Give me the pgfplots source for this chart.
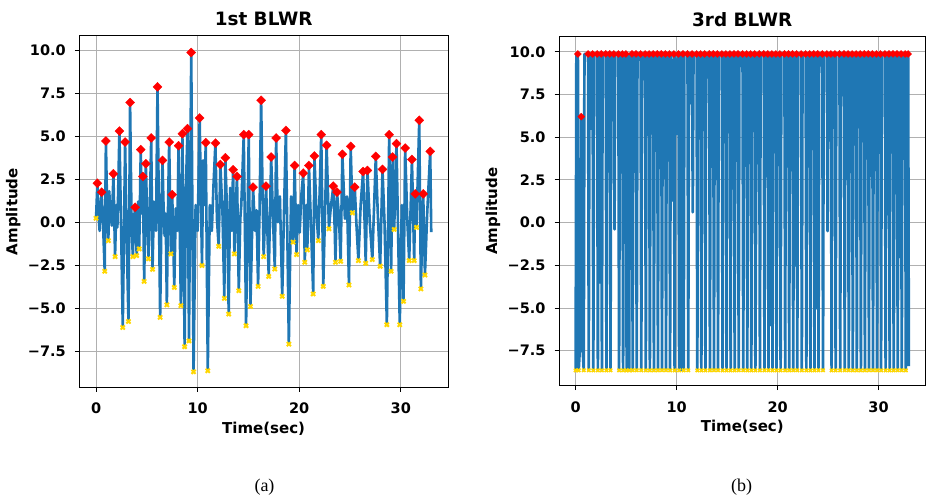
\documentclass[border=0pt]{standalone}
\usepackage{pgfplots}
\usepackage{pgfplotstable}
\pgfplotsset{compat=1.18}
\usepackage{fontspec}
\setmainfont{DejaVu Sans}
\newfontfamily\capfont{Liberation Serif}

\definecolor{sigblue}{RGB}{31,119,180}
\definecolor{peakred}{RGB}{255,0,0}
\definecolor{troughgold}{RGB}{255,215,0}
\definecolor{gridgray}{RGB}{176,176,176}

% t = time (s), v = amplitude, k = 1 peak / -1 trough / 0 plain sample
\pgfplotstableread{
t v k
0.00 0.23 -1
0.13 2.27 1
0.25 0.4 0
0.35 -0.5 0
0.45 0.9 0
0.55 1.75 1
0.70 -0.3 0
0.85 -2.85 -1
0.97 4.72 1
1.10 0.5 0
1.21 -1.07 -1
1.30 1.8 0
1.40 0.6 0
1.55 -0.2 0
1.71 2.82 1
1.87 -2.00 -1
2.00 1.0 0
2.10 -0.3 0
2.18 1.9 0
2.30 5.30 1
2.45 0.2 0
2.63 -6.12 -1
2.86 4.66 1
3.00 -0.5 0
3.19 -5.77 -1
3.35 6.96 1
3.50 -0.2 0
3.62 -2.00 -1
3.75 0.3 0
3.85 0.87 1
4.00 -1.94 -1
4.15 1.2 0
4.25 -1.55 -1
4.40 4.22 1
4.52 0.5 0
4.60 2.66 1
4.74 -3.44 -1
4.90 3.40 1
5.05 0.0 0
5.16 -2.13 -1
5.30 1.0 0
5.43 4.90 1
5.56 -2.74 -1
5.70 1.2 0
5.80 0.1 0
5.90 -0.5 0
6.05 7.87 1
6.20 0.0 0
6.31 -5.53 -1
6.45 1.0 0
6.54 3.60 1
6.65 0.8 0
6.75 -0.8 0
6.85 0.5 0
6.97 -4.81 -1
7.10 1.5 0
7.20 4.66 1
7.37 -1.84 -1
7.50 1.60 1
7.70 -3.79 -1
7.85 0.8 0
8.00 -0.5 0
8.12 4.45 1
8.35 -4.85 -1
8.50 5.15 1
8.72 -7.24 -1
8.85 2.0 0
9.00 5.44 1
9.15 -6.90 -1
9.37 9.87 1
9.60 -8.70 -1
9.80 1.0 0
9.90 0.2 0
10.00 -0.5 0
10.20 6.06 1
10.43 -2.52 -1
10.55 3.6 0
10.65 1.0 0
10.80 4.63 1
11.00 -8.64 -1
11.20 1.0 0
11.30 0.1 0
11.40 -0.5 0
11.55 2.0 0
11.75 4.60 1
11.90 0.2 0
12.07 -1.40 -1
12.24 3.36 1
12.45 0.5 0
12.63 -4.43 -1
12.73 3.75 1
12.90 0.5 0
13.06 -5.34 -1
13.20 2.0 0
13.35 -0.5 0
13.49 3.05 1
13.62 -1.84 -1
13.75 1.0 0
13.88 2.66 1
14.05 -3.98 -1
14.20 0.2 0
14.30 1.0 0
14.54 5.09 1
14.77 -6.02 -1
15.03 5.09 1
15.20 -4.90 -1
15.46 2.04 1
15.65 -0.5 0
15.80 0.7 0
15.95 -3.73 -1
16.10 0.8 0
16.25 7.09 1
16.50 -2.00 -1
16.74 2.10 1
17.00 -3.15 -1
17.24 3.79 1
17.45 -0.3 0
17.60 -2.72 -1
17.73 4.90 1
17.90 0.0 0
18.00 0.9 0
18.10 1.5 0
18.33 -4.31 -1
18.50 0.5 0
18.69 5.34 1
18.98 -7.09 -1
19.20 1.5 0
19.40 -1.16 -1
19.55 3.30 1
19.74 -1.88 -1
19.90 1.0 0
20.05 -0.6 0
20.20 1.5 0
20.40 2.86 1
20.55 -2.33 -1
20.70 1.0 0
20.80 -1.61 -1
20.96 3.30 1
21.15 0.0 0
21.38 -4.17 -1
21.50 3.85 1
21.70 0.5 0
21.88 -1.07 -1
22.17 5.09 1
22.37 -3.73 -1
22.55 0.8 0
22.70 4.47 1
22.93 -0.38 -1
23.10 0.8 0
23.36 2.10 1
23.50 -0.5 0
23.57 -2.33 -1
23.72 1.75 1
23.90 0.5 0
24.08 -2.27 -1
24.25 3.95 1
24.50 0.2 0
24.70 1.5 0
24.90 -3.65 -1
25.07 4.41 1
25.24 0.55 -1
25.47 2.04 1
25.65 -0.3 0
25.83 -2.23 -1
26.05 1.0 0
26.29 2.95 1
26.45 -0.2 0
26.55 -2.39 -1
26.72 3.01 1
26.95 0.0 0
27.20 -2.17 -1
27.35 0.5 0
27.54 3.83 1
27.75 0.3 0
27.97 -2.56 -1
28.20 3.07 1
28.40 0.0 0
28.63 -5.96 -1
28.86 5.09 1
29.05 -2.85 -1
29.20 3.79 1
29.35 -0.42 -1
29.58 4.57 1
29.90 -5.96 -1
30.10 1.0 0
30.27 -4.60 -1
30.43 4.31 1
30.65 0.0 0
30.83 -2.23 -1
31.10 3.65 1
31.32 -2.23 -1
31.42 1.65 1
31.55 -0.30 -1
31.82 5.93 1
31.98 -3.88 -1
32.21 1.65 1
32.38 -3.07 -1
32.60 0.5 0
32.90 4.12 1
33.00 -0.58 0
}\firstblwr

\pgfplotstableread{
t v k
0.00 -8.65 -1
0.07 9.87 0
0.22 9.87 1
0.30 -8.65 -1
0.45 -7.0 0
0.56 6.20 1
0.68 -7.2 0
0.80 -8.65 -1
0.87 9.87 0
1.23 9.87 1
1.30 -8.65 -1
1.37 9.87 0
1.52 5.5 0
1.68 9.87 1
1.75 -8.65 -1
1.82 9.87 0
2.13 9.87 1
2.20 -8.65 -1
2.27 9.87 0
2.40 -3.5 0
2.53 9.87 1
2.60 -8.65 -1
2.67 9.87 0
2.98 9.87 1
3.05 -8.65 -1
3.12 9.87 0
3.38 9.87 1
3.45 -8.65 -1
3.52 9.87 0
3.78 9.87 1
3.85 -0.4 0
3.92 9.87 0
4.23 9.87 1
4.30 -8.65 -1
4.37 5.6 0
4.50 9.87 0
4.63 9.87 1
4.70 -8.65 -1
4.77 9.87 0
4.98 9.87 1
5.05 -8.65 -1
5.12 9.87 0
5.20 9.3 0
5.30 -8.65 -1
5.37 9.87 0
5.58 9.87 1
5.65 -8.65 -1
5.72 9.87 0
5.85 8.5 0
5.98 9.87 1
6.05 -8.65 -1
6.12 9.87 0
6.43 9.87 1
6.50 -8.65 -1
6.57 9.87 0
6.72 8.4 0
6.88 9.87 1
6.95 -8.65 -1
7.02 9.87 0
7.28 9.87 1
7.35 -8.65 -1
7.42 9.87 0
7.68 9.87 1
7.75 -8.65 -1
7.82 9.87 0
8.08 9.87 1
8.15 -8.65 -1
8.22 9.87 0
8.48 9.87 1
8.55 -8.65 -1
8.62 9.87 0
8.88 9.87 1
8.95 -8.65 -1
9.02 9.87 0
9.28 9.87 1
9.35 -8.65 -1
9.42 9.87 0
9.58 1.3 0
9.73 9.87 1
9.80 -8.65 -1
9.87 9.87 0
10.02 5.2 0
10.18 9.87 1
10.25 -8.65 -1
10.32 -1.0 0
10.40 -8.65 0
10.47 9.87 0
10.63 9.87 1
10.70 -8.65 -1
10.77 9.87 0
11.08 9.87 1
11.15 -8.65 -1
11.22 9.87 0
11.38 7.0 0
11.53 9.87 1
11.60 0.6 0
11.67 9.87 0
11.98 9.87 1
12.05 -8.65 -1
12.12 9.87 0
12.38 9.87 1
12.45 -8.65 -1
12.52 9.87 0
12.65 9.0 0
12.78 9.87 1
12.85 -8.65 -1
12.92 9.87 0
13.08 8.5 0
13.23 9.87 1
13.30 -8.65 -1
13.37 9.87 0
13.63 9.87 1
13.70 -8.65 -1
13.77 9.87 0
14.03 9.87 1
14.10 -8.65 -1
14.17 9.87 0
14.48 9.87 1
14.55 -8.65 -1
14.62 9.87 0
14.88 9.87 1
14.95 -8.65 -1
15.02 9.87 0
15.15 5.3 0
15.28 9.87 1
15.35 -8.65 -1
15.42 9.87 0
15.55 2.0 0
15.68 9.87 1
15.75 -8.65 -1
15.82 9.87 0
16.08 9.87 1
16.15 -8.65 -1
16.22 9.87 0
16.53 9.87 1
16.60 -8.65 -1
16.67 9.87 0
16.93 9.87 1
17.00 -8.65 -1
17.07 9.87 0
17.20 3.5 0
17.33 9.87 1
17.40 -8.65 -1
17.47 9.87 0
17.73 9.87 1
17.80 -8.65 -1
17.87 1.4 0
18.00 9.87 0
18.18 9.87 1
18.25 -8.65 -1
18.32 9.87 0
18.63 9.87 1
18.70 -8.65 -1
18.77 9.87 0
19.03 9.87 1
19.10 -8.65 -1
19.17 9.87 0
19.30 -6.0 0
19.43 9.87 1
19.50 -8.65 -1
19.57 9.87 0
19.83 9.87 1
19.90 -8.65 -1
19.97 6.3 0
20.10 9.87 0
20.23 9.87 1
20.30 -8.65 -1
20.37 9.87 0
20.68 9.87 1
20.75 -8.65 -1
20.82 9.87 0
20.95 3.3 0
21.08 9.87 1
21.15 -8.65 -1
21.22 9.87 0
21.48 9.87 1
21.55 -8.65 -1
21.62 9.87 0
21.75 -2.5 0
21.88 9.87 1
21.95 -8.65 -1
22.02 9.87 0
22.33 9.87 1
22.40 -8.65 -1
22.47 9.87 0
22.78 9.87 1
22.85 -8.65 -1
22.92 9.87 0
23.05 3.3 0
23.18 9.87 1
23.25 -8.65 -1
23.32 9.87 0
23.58 9.87 1
23.65 -8.65 -1
23.72 9.87 0
23.85 -5.0 0
23.98 9.87 1
24.05 -8.65 -1
24.12 9.87 0
24.43 9.87 1
24.50 -8.65 -1
24.57 9.87 0
24.88 9.87 1
24.95 -0.5 0
25.02 9.87 0
25.28 9.87 1
25.35 -8.65 -1
25.42 9.87 0
25.68 9.87 1
25.75 -8.65 -1
25.82 9.87 0
26.13 9.87 1
26.20 -8.65 -1
26.27 6.8 0
26.40 9.87 0
26.58 9.87 1
26.65 -8.65 -1
26.72 9.87 0
26.98 9.87 1
27.05 -8.65 -1
27.12 4.4 0
27.25 9.87 0
27.38 9.87 1
27.45 -8.65 -1
27.52 9.87 0
27.78 9.87 1
27.85 -8.65 -1
27.92 9.87 0
28.18 9.87 1
28.25 -8.65 -1
28.32 9.87 0
28.45 7.6 0
28.58 9.87 1
28.65 -8.65 -1
28.72 9.87 0
28.98 9.87 1
29.05 -8.65 -1
29.12 9.87 0
29.38 9.87 1
29.45 -8.65 -1
29.52 9.87 0
29.65 4.4 0
29.78 9.87 1
29.85 -8.65 -1
29.92 9.87 0
30.18 9.87 1
30.25 -8.65 -1
30.32 9.87 0
30.63 9.87 1
30.70 -8.65 -1
30.77 9.87 0
30.90 0.5 0
31.03 9.87 1
31.10 -8.65 -1
31.17 9.87 0
31.43 9.87 1
31.50 -8.65 -1
31.57 3.5 0
31.70 9.87 0
31.83 9.87 1
31.90 -8.65 -1
31.97 9.87 0
32.10 -2.0 0
32.23 9.87 1
32.30 -8.65 -1
32.37 9.87 0
32.63 9.87 1
32.70 -8.65 -1
32.77 9.87 0
32.93 9.87 1
33.00 -8.40 0
}\thirdblwr

\pgfplotsset{
  blwr/.style={
    scale only axis,
    anchor=south west,
    xmin=-1.65, xmax=34.65,
    xtick={0,10,20,30}, xticklabels={0,10,20,30},
    ytick={-7.5,-5,-2.5,0,2.5,5,7.5,10},
    yticklabels={−7.5,−5.0,−2.5,0.0,2.5,5.0,7.5,10.0},
    grid=major,
    major grid style={gridgray, line width=0.9pt},
    tick pos=left,
    tick align=outside,
    major tick length=4.5pt,
    tick style={black, line width=0.9pt},
    axis line style={black, line width=1pt},
    ticklabel style={font=\fontsize{14.5}{16}\selectfont\bfseries},
    xticklabel style={anchor=base, yshift=-22pt},
    yticklabel style={anchor=east, xshift=-5.5pt},
    label style={font=\fontsize{15}{18}\selectfont\bfseries},
    xlabel style={at={(0.5,0)}, anchor=base, yshift=-46pt},
    ylabel style={at={(0,0.5)}, anchor=base, yshift=62pt},
    title style={at={(0.5,1)}, anchor=base, yshift=4pt,
      font=\fontsize{18.4}{21}\selectfont\bfseries},
    xlabel={Time(sec)},
    ylabel={Amplitude},
  },
  sig/.style={sigblue, line width=2.6pt, line join=round, mark=none},
  peaks/.style={only marks, mark=square*, mark size=3.2pt,
    mark options={rotate=45, fill=peakred, draw=peakred, line width=0.3pt}},
  troughs/.style={only marks, mark=x, mark size=2.9pt,
    mark options={draw=troughgold, line width=2pt}},
}

\begin{document}
\begin{tikzpicture}
\path[use as bounding box] (0,0) rectangle (927pt,499pt);

\begin{axis}[blwr,
  at={(79.3pt,111.7pt)}, width=368.7pt, height=351.3pt,
  ymin=-9.6, ymax=10.83,
  title={1st BLWR}]
  \addplot[sig] table[x=t, y=v] {\firstblwr};
  \addplot[troughs] table[x=t, y=v,
    restrict expr to domain={\thisrow{k}}{-1.5:-0.5}] {\firstblwr};
  \addplot[peaks] table[x=t, y=v,
    restrict expr to domain={\thisrow{k}}{0.5:1.5}] {\firstblwr};
\end{axis}

\begin{axis}[blwr,
  at={(559pt,113.3pt)}, width=366.5pt, height=349pt,
  ymin=-9.55, ymax=10.88,
  title={3rd BLWR}]
  \addplot[sig, line width=2.7pt] table[x=t, y=v] {\thirdblwr};
  \addplot[troughs, mark size=2.4pt,
    mark options={draw=troughgold, line width=1.6pt}] table[x=t, y=v,
    restrict expr to domain={\thisrow{k}}{-1.5:-0.5}] {\thirdblwr};
  \addplot[peaks, mark size=2.5pt] table[x=t, y=v,
    restrict expr to domain={\thisrow{k}}{0.5:1.5}] {\thirdblwr};
\end{axis}

\node[anchor=base, font=\capfont\fontsize{18}{20}\selectfont] at (264.5pt,8pt) {(a)};
\node[anchor=base, font=\capfont\fontsize{18}{20}\selectfont] at (741.5pt,8pt) {(b)};
\end{tikzpicture}
\end{document}
